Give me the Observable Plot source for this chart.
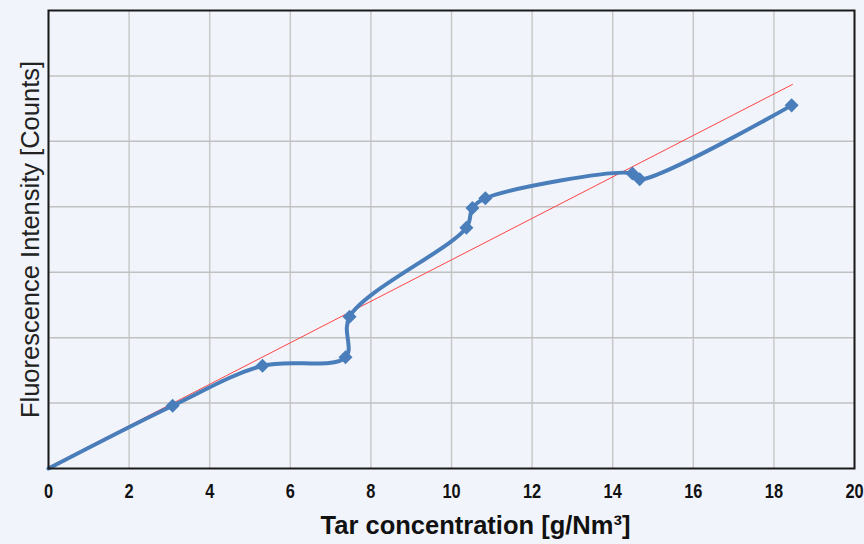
<!DOCTYPE html>
<html>
<head>
<meta charset="utf-8">
<script src="https://cdn.jsdelivr.net/npm/d3@7"></script>
<script src="https://cdn.jsdelivr.net/npm/@observablehq/plot@0.6"></script>
<style>
  html, body { margin: 0; padding: 0; background: #f1f5fb; }
  #chart { width: 864px; height: 544px; }
</style>
</head>
<body>
<div id="chart"></div>
<script>
// Measured series (Tar concentration vs fluorescence intensity, arbitrary units)
const tarConc = [0, 3.08, 5.31, 7.37, 7.47, 10.37, 10.52, 10.84, 14.49, 14.67, 18.44];
const intensity = [0, 0.96, 1.57, 1.70, 2.32, 3.68, 3.98, 4.13, 4.51, 4.42, 5.55];
// Linear trend line endpoints
const trendX = [0, 18.46];
const trendY = [0.02, 5.87];
const xTicks = [0, 2, 4, 6, 8, 10, 12, 14, 16, 18, 20];
const yGrid = [1, 2, 3, 4, 5, 6];

const pts = tarConc.map((x, i) => ({x, y: intensity[i]}));
const trend = trendX.map((x, i) => ({x, y: trendY[i]}));
const blue = "#4a7ebb";

const chart = Plot.plot({
  width: 864,
  height: 544,
  marginLeft: 48,
  marginRight: 10,
  marginTop: 10,
  marginBottom: 76,
  style: {background: "#f1f5fb", fontFamily: "'Liberation Sans', Arial, sans-serif"},
  x: {domain: [0, 20]},
  y: {domain: [0, 7]},
  marks: [
    Plot.ruleX(xTicks, {stroke: "#c8c8c8", strokeWidth: 1.5}),
    Plot.ruleY(yGrid, {stroke: "#c0c0c0", strokeWidth: 1.5}),
    Plot.line(trend, {x: "x", y: "y", stroke: "#ff4444", strokeWidth: 1}),
    Plot.line(pts, {x: "x", y: "y", stroke: blue, strokeWidth: 4, curve: "catmull-rom"}),
    Plot.dot(pts.filter(d => d.x > 0), {x: "x", y: "y", symbol: "square", r: 5.6, rotate: 45, fill: blue, stroke: "none"}),
    Plot.frame({stroke: "#1a1a1a", strokeWidth: 2}),
    Plot.axisX(xTicks, {tickSize: 0, tickPadding: 16, fontSize: 19.5, fontWeight: "bold", label: null, fill: "#111"}),
    Plot.axisY([], {label: null}),
    Plot.text(["Tar concentration [g/Nm³]"], {frameAnchor: "bottom", lineAnchor: "middle", dx: 24, dy: 57, fontSize: 25.5, fontWeight: "bold", fill: "#111"}),
    Plot.text(["Fluorescence Intensity [Counts]"], {frameAnchor: "left", textAnchor: "middle", lineAnchor: "middle", rotate: -90, dx: -18, fontSize: 25.5, fill: "#222"})
  ]
});
// Condense the tick labels horizontally (narrow bold look), keeping their positions
d3.select(chart).selectAll('g[aria-label="x-axis tick label"] text').each(function() {
  const tr = this.getAttribute("transform");
  if (tr) this.setAttribute("transform", tr + " scale(0.84,1)");
});
document.getElementById("chart").appendChild(chart);
</script>
</body>
</html>
